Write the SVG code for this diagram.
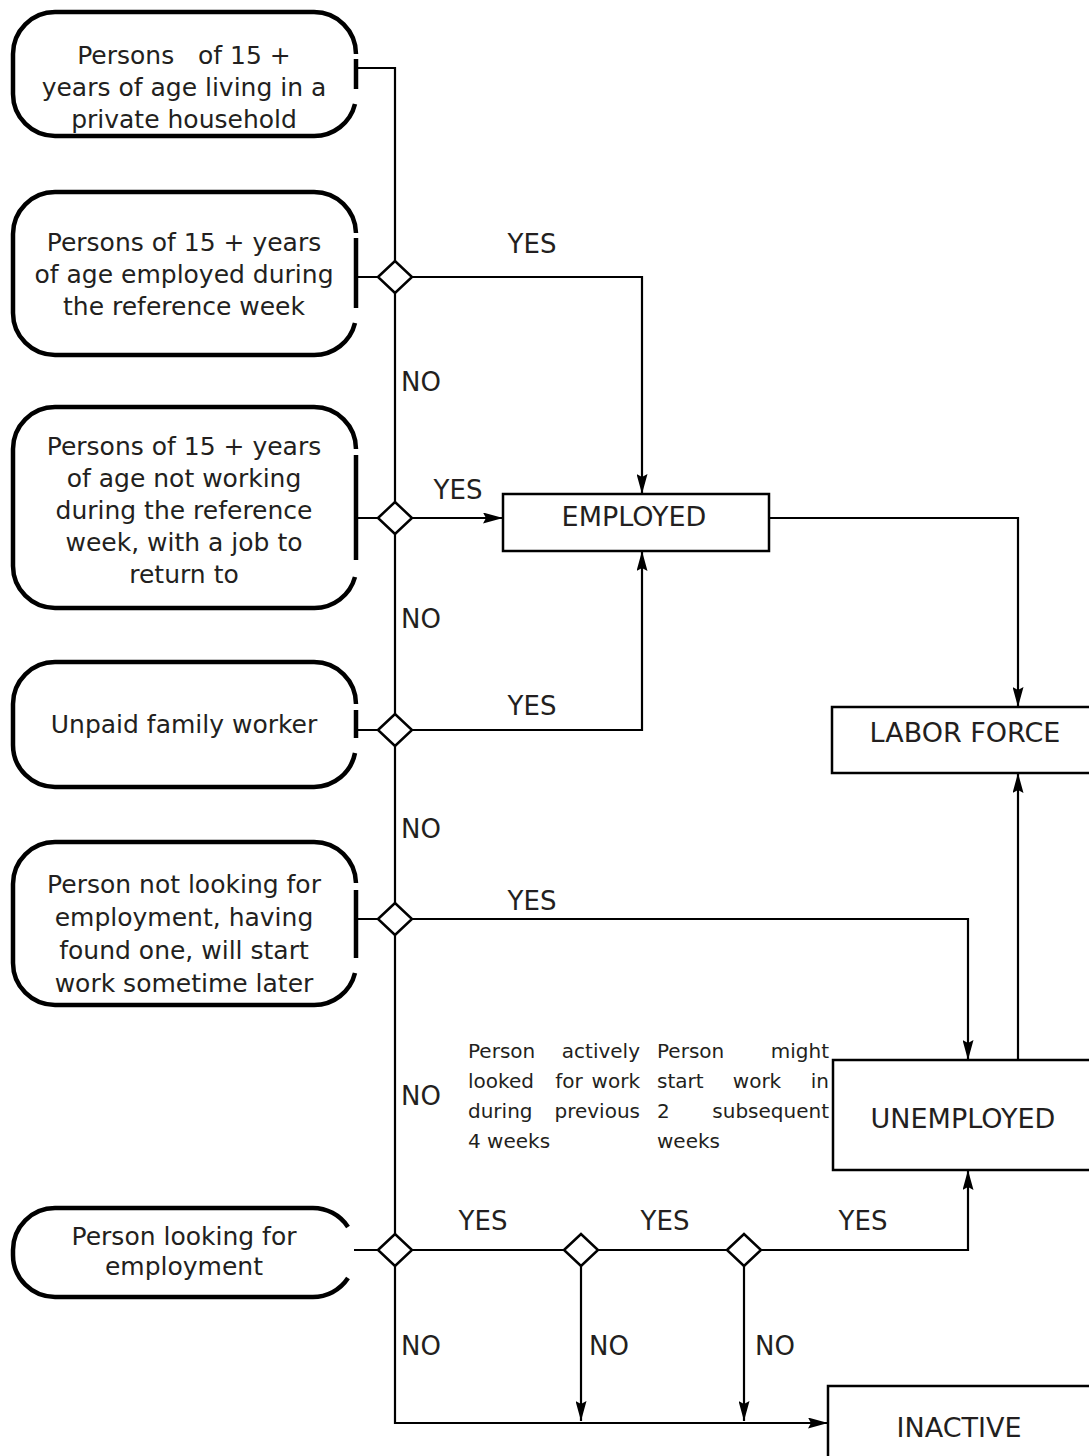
<svg xmlns="http://www.w3.org/2000/svg" width="1089" height="1456" viewBox="0 0 1089 1456">
<defs>
<marker id="ah" markerUnits="userSpaceOnUse" markerWidth="20" markerHeight="11" viewBox="0 0 20 11" refX="20" refY="5.5" orient="auto">
<path d="M0,0 L20,5.5 L0,11 L3,5.5 z" fill="#000"/>
</marker>
</defs>
<style>
.rb{fill:none;stroke:#000;stroke-width:4.5}
.bx{fill:#fff;stroke:#000;stroke-width:2.5}
.dm{fill:#fff;stroke:#000;stroke-width:2.5}
.cn{fill:none;stroke:#000;stroke-width:2.2}
.ar{marker-end:url(#ah)}
text{font-family:"DejaVu Sans","Liberation Sans",sans-serif;fill:#231f20}
.bt{font-size:25px;text-anchor:middle}
.lb{font-size:26px}
.lbm{font-size:26px;text-anchor:middle}
.nt{font-size:20px}
.tt{font-size:27px;text-anchor:middle}
</style>
<rect width="1089" height="1456" fill="#fff"/>

<g id="connectors">
<path class="cn ar" d="M356,68 H395 V1423 H828"/>
<path class="cn" d="M356,277 H395"/>
<path class="cn" d="M356,518 H395"/>
<path class="cn" d="M356,730 H395"/>
<path class="cn" d="M356,919 H395"/>
<path class="cn" d="M354,1250 H395"/>
<path class="cn ar" d="M412,277 H642 V494"/>
<path class="cn ar" d="M412,518 H503"/>
<path class="cn ar" d="M412,730 H642 V551"/>
<path class="cn ar" d="M769,518 H1018 V707"/>
<path class="cn ar" d="M412,919 H968 V1060"/>
<path class="cn ar" d="M1018,1060 V773"/>
<path class="cn ar" d="M412,1250 H968 V1170"/>
<path class="cn ar" d="M581,1266 V1421"/>
<path class="cn ar" d="M744,1266 V1421"/>
</g>

<g id="labels">
<text class="lbm" x="532" y="253">YES</text>
<text class="lbm" x="458" y="499">YES</text>
<text class="lbm" x="532" y="715">YES</text>
<text class="lbm" x="532" y="910">YES</text>
<text class="lbm" x="483" y="1230">YES</text>
<text class="lbm" x="665" y="1230">YES</text>
<text class="lbm" x="863" y="1230">YES</text>
<text class="lb" x="401" y="391">NO</text>
<text class="lb" x="401" y="628">NO</text>
<text class="lb" x="401" y="838">NO</text>
<text class="lb" x="401" y="1105">NO</text>
<text class="lb" x="401" y="1355">NO</text>
<text class="lb" x="589" y="1355">NO</text>
<text class="lb" x="755" y="1355">NO</text>
</g>

<g id="box1">
<path class="rb" d="M356,54 A42,42 0 0 0 314,12 L55,12 A42,42 0 0 0 13,54 L13,94 A42,42 0 0 0 55,136 L314,136 A42,42 0 0 0 355,104 M356,59 V89"/>
<text class="bt" x="184" y="64" style="white-space:pre">Persons   of 15 +</text>
<text class="bt" x="184" y="96">years of age living in a</text>
<text class="bt" x="184" y="128">private household</text>
</g>

<g id="box2">
<path class="rb" d="M356,233 A42,42 0 0 0 314,192 L55,192 A42,42 0 0 0 13,234 L13,313 A42,42 0 0 0 55,355 L314,355 A42,42 0 0 0 355,323 M356,238 V308"/>
<text class="bt" x="184" y="251">Persons of 15 + years</text>
<text class="bt" x="184" y="283">of age employed during</text>
<text class="bt" x="184" y="315">the reference week</text>
</g>

<g id="box3">
<path class="rb" d="M356,449 A42,42 0 0 0 314,407 L55,407 A42,42 0 0 0 13,449 L13,566 A42,42 0 0 0 55,608 L314,608 A42,42 0 0 0 355,577 M356,455 V560"/>
<text class="bt" x="184" y="455">Persons of 15 + years</text>
<text class="bt" x="184" y="487">of age not working</text>
<text class="bt" x="184" y="519">during the reference</text>
<text class="bt" x="184" y="551">week, with a job to</text>
<text class="bt" x="184" y="583">return to</text>
</g>

<g id="box4">
<path class="rb" d="M356,704 A42,42 0 0 0 314,662 L55,662 A42,42 0 0 0 13,704 L13,745 A42,42 0 0 0 55,787 L314,787 A42,42 0 0 0 355,753 M356,710 V738"/>
<text class="bt" x="184" y="733">Unpaid family worker</text>
</g>

<g id="box5">
<path class="rb" d="M356,883 A42,42 0 0 0 314,842 L55,842 A42,42 0 0 0 13,884 L13,963 A42,42 0 0 0 55,1005 L314,1005 A42,42 0 0 0 355,973 M356,890 V958"/>
<text class="bt" x="184" y="893">Person not looking for</text>
<text class="bt" x="184" y="926">employment, having</text>
<text class="bt" x="184" y="959">found one, will start</text>
<text class="bt" x="184" y="992">work sometime later</text>
</g>

<g id="box6">
<path class="rb" d="M348,1227 A42,42 0 0 0 312,1208 L55,1208 A42,42 0 0 0 13,1250 L13,1255 A42,42 0 0 0 55,1297 L312,1297 A42,42 0 0 0 348,1278"/>
<text class="bt" x="184" y="1245">Person looking for</text>
<text class="bt" x="184" y="1275">employment</text>
</g>

<g id="diamonds">
<polygon class="dm" points="378,277 395,261 412,277 395,293"/>
<polygon class="dm" points="378,518 395,502 412,518 395,534"/>
<polygon class="dm" points="378,730 395,714 412,730 395,746"/>
<polygon class="dm" points="378,919 395,903 412,919 395,935"/>
<polygon class="dm" points="378,1250 395,1234 412,1250 395,1266"/>
<polygon class="dm" points="564,1250 581,1234 598,1250 581,1266"/>
<polygon class="dm" points="727,1250 744,1234 761,1250 744,1266"/>
</g>

<g id="employed">
<rect class="bx" x="503" y="494" width="266" height="57"/>
<text class="tt" x="634" y="526">EMPLOYED</text>
</g>

<g id="laborforce">
<rect class="bx" x="832" y="707" width="262" height="66"/>
<text class="tt" x="965" y="742">LABOR FORCE</text>
</g>

<g id="unemployed">
<rect class="bx" x="833" y="1060" width="262" height="110"/>
<text class="tt" x="963" y="1128">UNEMPLOYED</text>
</g>

<g id="inactive">
<rect class="bx" x="828" y="1386" width="265" height="80"/>
<text class="tt" x="959" y="1437">INACTIVE</text>
</g>

<g id="note1">
<text class="nt" y="1058"><tspan x="468">Person</tspan><tspan x="640" text-anchor="end">actively</tspan></text>
<text class="nt" y="1088"><tspan x="468">looked</tspan><tspan x="569" text-anchor="middle">for</tspan><tspan x="640" text-anchor="end">work</tspan></text>
<text class="nt" y="1118"><tspan x="468">during</tspan><tspan x="640" text-anchor="end">previous</tspan></text>
<text class="nt" x="468" y="1148">4 weeks</text>
</g>

<g id="note2">
<text class="nt" y="1058"><tspan x="657">Person</tspan><tspan x="829" text-anchor="end">might</tspan></text>
<text class="nt" y="1088"><tspan x="657">start</tspan><tspan x="757" text-anchor="middle">work</tspan><tspan x="829" text-anchor="end">in</tspan></text>
<text class="nt" y="1118"><tspan x="657">2</tspan><tspan x="829" text-anchor="end">subsequent</tspan></text>
<text class="nt" x="657" y="1148">weeks</text>
</g>
</svg>
